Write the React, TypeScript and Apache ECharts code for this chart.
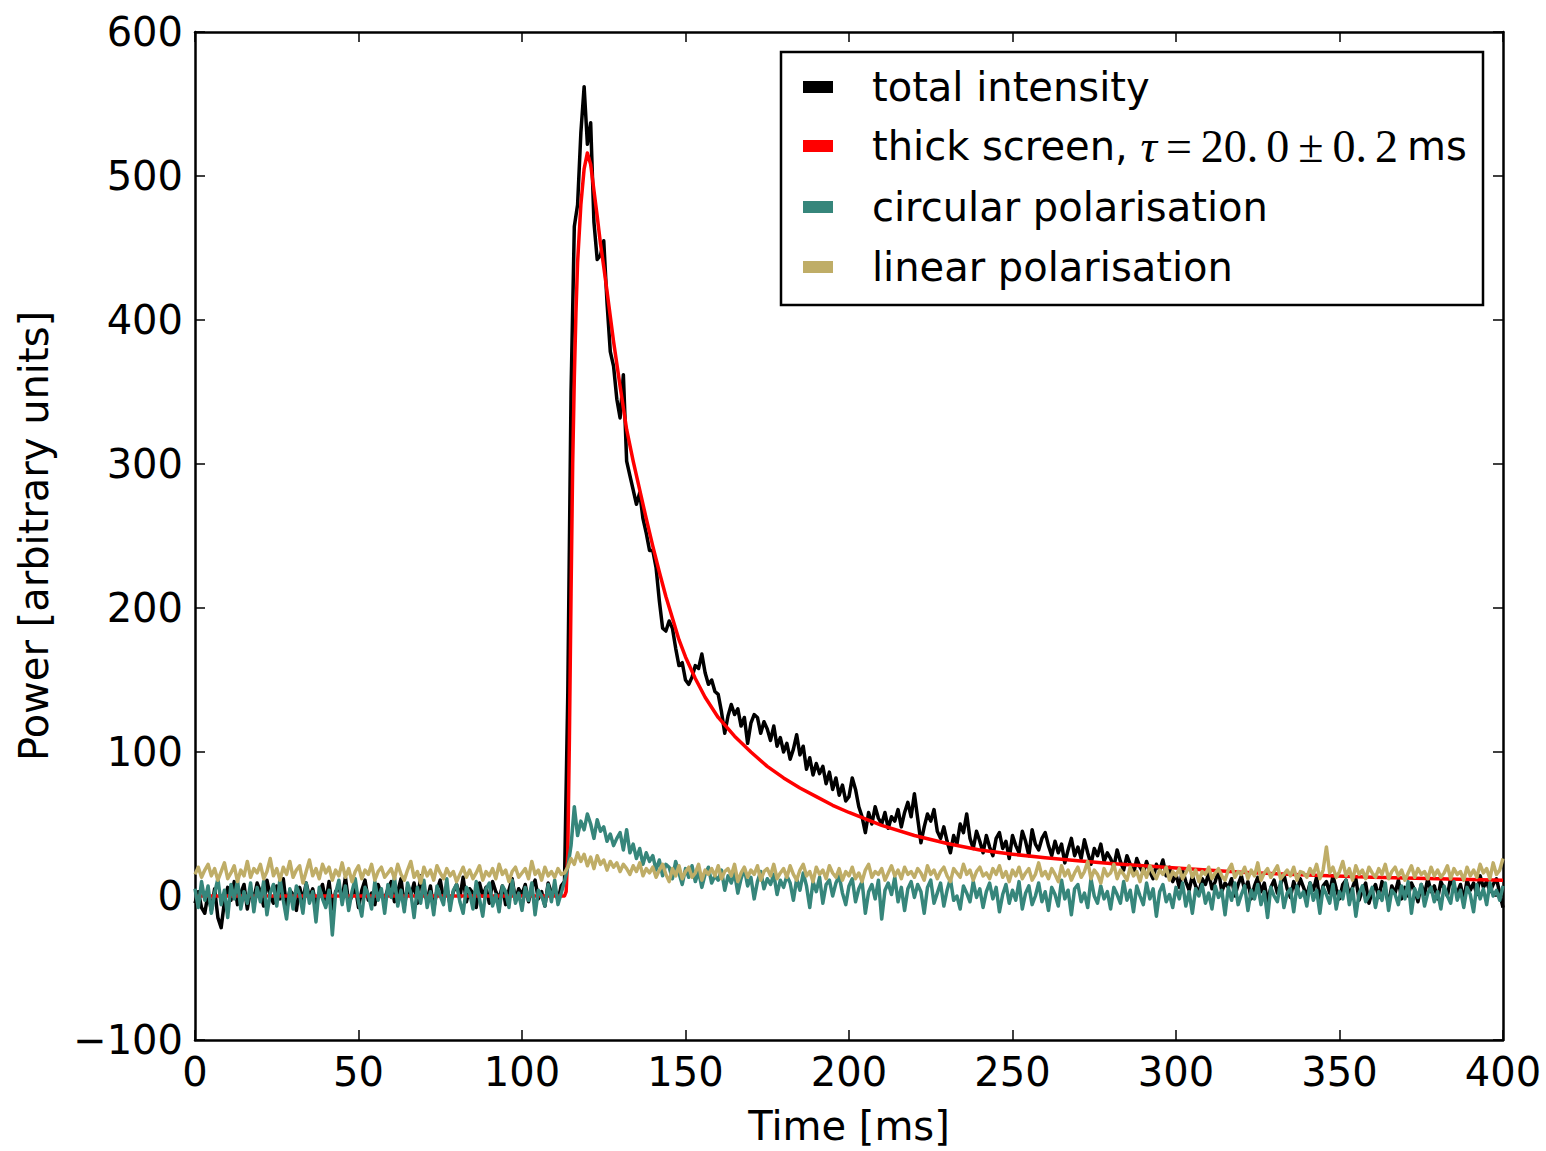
import { useEffect, useRef } from "react";
import * as echarts from "echarts";

// Sample time grid: one sample per ms, 0..400 ms
const totalIntensity: number[] = [
  -5, 3, -8, -12, 2, -10, 5, -15, -22, -4, 6, -3, 10, -6, 2, 8, -9, 4, -2, 9,
  3, -7, 11, 0, -5, 7, -2, 12, -8, 4, 1, -10, 6, -3, 9, -1, 5, -6, 2, 8,
  -4, 10, -9, 3, 6, -2, 13, -5, 0, 7, -8, 4, 11, -3, 2, -6, 8, 1, -2, 5,
  10, -4, 3, 12, -7, 6, 0, 9, -5, 14, 2, -3, 7, -9, 4, 11, -2, 6, -6, 3,
  8, -1, 13, -4, 5, 2, -8, 9, 0, 6, -5, 10, 3, -2, 7, -6, 4, 12, -3, 5,
  1, 8, -4, 6, 11, -2, 3, -7, 9, 2, 5, -3, 7,
  10, 140, 350, 465, 480, 530, 562,
  522, 537, 468, 442, 445, 455, 412, 378, 368, 345,
  332, 362, 302, 292, 282, 272, 280, 262, 252, 240,
  240, 228, 205, 186, 184, 191, 186, 172, 160, 162,
  150, 147, 152, 160, 158, 168, 155, 147, 150, 142,
  140, 128, 113, 125, 133, 126, 130, 118, 124, 106, 120, 126, 124, 113, 121, 116, 108, 118, 104, 110,
  100, 106, 95, 102, 112, 98, 104, 88, 96, 84, 92, 85, 90, 78, 86, 74, 82, 70, 77, 66,
  69, 82, 74, 62, 55, 44, 58, 50, 62, 54, 50, 58, 47, 55, 52, 60, 48, 58, 65, 55,
  71, 54, 37, 48, 57, 52, 60, 45, 40, 48, 38, 30, 42, 36, 50, 44, 57, 40, 33, 45,
  38, 30, 42, 34, 28, 40, 44, 33, 38, 26, 42, 35, 30, 45, 38, 28, 46, 36, 32, 40,
  44, 35, 28, 38, 30, 36, 23, 32, 40, 28, 34, 26, 39, 30, 22, 33, 28, 36, 24, 30,
  26, 20, 32, 24, 18, 28, 22, 15, 26, 20, 16, 24, 17, 12, 22, 18, 25, 14, 20, 10,
  15, 6, 18, 10, 4, 14, 7, 2, 12, 8, 16, 5, 10, 18, 3, 9, 6, 12, 0, 8,
  14, 4, 10, -2, 7, 13, 3, 9, -4, 6, 11, 2, 8, 15, 5, -1, 10, 3, 12, 6,
  0, 9, 4, 13, -3, 7, 10, 2, 14, 5, -2, 8, 11, 1, 6, 12, -3, 4, 9, -5,
  3, 8, -1, 10, 5, -6, 7, 2, 11, -2, 6, 0, 9, 4, -4, 8, 1, 12, 3, 7,
  -2, 10, 5, 0, 13, 6, 2, 8, -3, 11, 4, 9, 1, 14, 6, 10, 3, 8, 12, 2, -8,
];

const circularPol: number[] = [
  5, -8, 10, -3, 7, -12, 2, 12, -6, 4, -15, 8, -2, 11, -9, 3, -5, 9, -11, 6,
  -4, 10, -13, 2, 8, -7, 12, -3, -16, 5, -9, 7, 1, -12, 9, -5, 3, -18, 6, -2,
  -8, 4, -27, 2, 11, -6, 7, -10, 3, 12, -4, -14, 6, 1, -9, 10, -3, 5, -12, 8,
  -1, 13, -7, 4, -11, 9, 2, -15, 6, -5, 11, -8, 3, -13, 7, 0, -6, 12, -10, 4,
  8, -4, -12, 6, 2, -9, 10, -2, -14, 5, 9, -7, 1, -11, 7, 3, -8, 11, -5, 2,
  -10, 6, -3, 9, -13, 4, 0, -7, 8, -4, 11, -6, 2,
  10, 20, 35, 62, 42, 52, 46,
  57, 50, 40, 53, 45, 48, 38, 43, 35, 40,
  44, 32, 46, 30, 36, 26, 33, 22, 30, 24,
  28, 18, 25, 14, 22, 20, 12, 24, 16, 8, 19, 13, 21, 10, 17, 6, 15, 20, 9, 14,
  11, 18, 4, 14, 9, 16, 2, 12, 19, 7, 13, -2, 10, 17, 5, 12, 8, 15, 1, 11,
  6, 14, 9, -3, 12, 4, 16, 7, -8, 10, 3, 13, -5, 8, 11, 0, 9, 14, 2, -6,
  7, 12, -4, 5, 10, -12, 3, 8, -2, 11, -16, 4, 9, 1, 13, -4, 6, -10, 5, 10,
  -1, 8, 3, -12, 6, 11, -5, 2, 9, -7, 4, 12, -3, 0, -9, 7, 2, -4, 10, -1,
  5, -8, 3, 9, -2, 6, -11, 1, 8, -5, 4, -3, 10, -9, 2, 7, -6, 0, 9, -4,
  3, -10, 6, 1, -7, 11, -2, 4, -13, 5, 8, -4, 2, -8, 12, 0, -5, 7, -2, 3,
  -9, 6, 1, -5, 10, -3, 4, -11, 7, 0, -6, 9, -2, 5, -14, 3, 8, -4, 1, -8,
  6, -2, 9, -7, 3, -12, 5, 0, 8, -5, 2, -9, 7, -1, 4, -13, 6, -3, 9, -6,
  1, 7, -10, 4, -2, 8, -6, 3, -15, 6, 0, -4, 10, -8, 2, 5, -11, 7, -1, 3,
  -7, 9, -3, 4, -12, 6, 1, -5, 8, -9, 3, -2, 11, -6, 5, -14, 2, 7, -4, 0,
  6, -8, 3, -3, 9, -10, 4, 1, -6, 7, -2, 10, -12, 5, -1, 8, -7, 2, 6, -4,
  3, -9, 7, 0, -5, 10, -3, 4, -8, 6, 1, -11, 8, -2, 5, -6, 9, 0, 4, -3, 7,
];

const linearPol: number[] = [
  15, 20, 13, 18, 22, 14, 19, 11, 17, 23, 12, 16, 21, 10, 18, 14, 24, 13, 19, 16,
  22, 12, 17, 26, 14, 19, 11, 20, 15, 24, 13, 18, 21, 9, 17, 25, 14, 19, 12, 22,
  16, 20, 11, 18, 14, 23, 13, 19, 10, 17, 21, 12, 18, 15, 22, 11, 17, 20, 13, 16,
  19, 12, 22, 15, 11, 18, 24, 13, 17, 9, 20, 14, 18, 11, 21, 16, 12, 19, 14, 17,
  10, 15, 20, 13, 18, 12, 16, 21, 11, 17, 14, 19, 12, 22, 15, 18, 10, 17, 20, 13,
  16, 19, 12, 24, 15, 18, 11, 20, 14, 17, 13, 19, 15,
  16, 20, 26, 22, 30, 24, 29,
  21, 27, 19, 28, 22, 25, 18, 24, 20, 23,
  17, 22, 19, 15, 21, 17, 23, 14, 19, 16,
  20, 13, 18, 22, 15, 10, 19, 14, 21, 12, 17, 20, 13, 16, 22, 11, 18, 15, 19, 14,
  21, 12, 17, 19, 14, 22, 10, 16, 20, 13, 18, 15, 21, 11, 17, 19, 14, 22, 12, 16,
  19, 13, 21, 15, 11, 18, 22, 14, 17, 10, 20, 15, 18, 12, 21, 16, 13, 19, 11, 17,
  14, 20, 12, 16, 10, 18, 22, 13, 17, 15, 19, 11, 16, 21, 14, 18, 12, 20, 15, 17,
  13, 19, 16, 11, 21, 15, 18, 12, 17, 20, 14, 10, 19, 16, 13, 22, 15, 18, 11, 17,
  20, 14, 16, 12, 19, 15, 21, 13, 17, 10, 18, 14, 20, 12, 16, 19, 11, 15, 23, 14,
  17, 12, 19, 15, 10, 21, 14, 18, 11, 16, 20, 13, 17, 24, 12, 18, 15, 9, 19, 14,
  16, 22, 12, 18, 15, 11, 20, 14, 17, 10, 19, 13, 21, 16, 12, 18, 15, 20, 11, 17,
  14, 19, 12, 16, 21, 13, 18, 10, 17, 15, 20, 12, 16, 19, 14, 11, 18, 22, 13, 17,
  15, 20, 12, 18, 14, 23, 11, 16, 19, 13, 17, 21, 12, 15, 18, 14, 20, 11, 17, 16,
  13, 19, 15, 22, 12, 18, 34, 16, 20, 13, 17, 24, 14, 19, 11, 21, 15, 18, 12, 20,
  16, 13, 19, 15, 22, 12, 17, 20, 14, 18, 11, 16, 21, 13, 19, 15, 17, 12, 20, 14,
  18, 13, 16, 21, 12, 19, 15, 17, 11, 20, 14, 18, 13, 22, 16, 19, 12, 23, 15, 18, 26,
];

// Fitted thick-screen profile
const fitTimes: number[] = [
  0, 113, 113.5, 114, 114.5, 115, 115.5, 116, 116.5, 117,
  118, 119, 120, 121, 122, 123, 124, 125, 126, 128,
  130, 132, 134, 136, 138, 140, 142, 144, 146, 148,
  150, 153, 156, 160, 165, 170, 175, 180, 185, 190,
  195, 200, 210, 220, 230, 240, 250, 260, 270, 280,
  290, 300, 320, 340, 360, 380, 400,
];
const fitValues: number[] = [
  0, 0, 3, 30, 110, 210, 300, 360, 405, 440,
  480, 505, 516, 508, 490, 472, 453, 437, 420, 385,
  354, 324, 302, 282, 262, 243, 225, 208, 193, 178,
  166, 151, 138, 124, 111, 100, 90, 82, 75, 69,
  63, 58, 49, 42, 36.5, 32, 29, 26.5, 24.5, 22.5,
  21, 19.5, 16.5, 14.5, 13, 12, 11,
];

const seriesNames = [
  "total intensity",
  "thick screen, τ = 20.0 ± 0.2 ms",
  "circular polarisation",
  "linear polarisation",
];
const seriesColors = ["#000000", "#ff0000", "#36867b", "#bfad67"];

const FONT = "DejaVu Sans";
const MATH = "Liberation Serif";

export default function App() {
  const ref = useRef<HTMLDivElement>(null);
  useEffect(() => {
    document.body.style.margin = "0";
    if (!ref.current) return;
    const chart = echarts.init(ref.current, undefined, { renderer: "svg" });
    const toPairs = (arr: number[]) => arr.map((v, i) => [i, v]);
    const fitPairs = fitTimes.map((t, i) => [t, fitValues[i]]);
    const axisLine = { show: true, onZero: false, lineStyle: { color: "#000", width: 2.5 } };
    const axisTick = { show: true, inside: true, length: 10, lineStyle: { color: "#000", width: 1.5 } };
    const labelStyle = { fontFamily: FONT, fontSize: 40, color: "#000" };
    const lineSeries = (name: string, data: any[], color: string) => ({
      name,
      type: "line",
      data,
      showSymbol: false,
      symbol: "none",
      color,
      lineStyle: { color, width: 3.5, join: "round" },
      emphasis: { disabled: true },
      clip: true,
    });
    const mathTok = { fontFamily: MATH, fontSize: 46, color: "#000", lineHeight: 40 };
    const legendText = {
      fontFamily: FONT, fontSize: 40, color: "#000", lineHeight: 40,
      padding: [0, 0, 0, 34],
      rich: {
        a: { fontFamily: FONT, fontSize: 40, color: "#000", lineHeight: 40 },
        t: { ...mathTok, fontStyle: "italic" },
        m: { ...mathTok },
        p: { ...mathTok, padding: [0, 0, 0, 8] },
        s: { ...mathTok, fontSize: 20, padding: [0, 2, 0, 2] },
      },
    };
    const legendBase = {
      orient: "vertical",
      left: 803,
      padding: 0,
      itemWidth: 30,
      itemHeight: 12,
      itemGap: 20,
      icon: "rect",
      selectedMode: false,
      textStyle: legendText,
      formatter: (name: string) =>
        name === seriesNames[1]
          ? "{a|thick screen, }{t|τ}{s| }{m|=}{s| }{m|20.}{p|0}{s| }{m|±}{s| }{m|0.}{p|2}{s| }{a|ms}"
          : name,
    };
    chart.setOption({
      animation: false,
      backgroundColor: "#fff",
      grid: { left: 195, right: 43, top: 32, bottom: 105, containLabel: false },
      xAxis: [
        {
          type: "value", min: 0, max: 400, interval: 50, position: "bottom",
          axisLine, axisTick, splitLine: { show: false },
          axisLabel: { ...labelStyle, margin: 12, showMinLabel: true, showMaxLabel: true },
          name: "Time [ms]", nameLocation: "middle", nameGap: 66,
          nameTextStyle: { ...labelStyle },
        },
        {
          type: "value", min: 0, max: 400, interval: 50, position: "top",
          axisLine, axisTick, splitLine: { show: false }, axisLabel: { show: false },
        },
      ],
      yAxis: [
        {
          type: "value", min: -100, max: 600, interval: 100, position: "left",
          axisLine, axisTick, splitLine: { show: false },
          axisLabel: {
            ...labelStyle, margin: 12,
            formatter: (v: number) => String(v).replace("-", "\u2212"),
          },
          name: "Power [arbitrary units]", nameLocation: "middle", nameGap: 141, nameRotate: 90,
          nameTextStyle: { ...labelStyle },
        },
        {
          type: "value", min: -100, max: 600, interval: 100, position: "right",
          axisLine, axisTick, splitLine: { show: false }, axisLabel: { show: false },
        },
      ],
      legend: [
        { ...legendBase, top: 67, data: [seriesNames[0]] },
        { ...legendBase, top: 123, data: [seriesNames[1]] },
        { ...legendBase, top: 187, data: [seriesNames[2], seriesNames[3]] },
      ],
      graphic: [
        {
          type: "rect",
          shape: { x: 781, y: 52, width: 702, height: 253 },
          style: { fill: "transparent", stroke: "#000", lineWidth: 2.5 },
          silent: true,
        },
      ],
      series: [
        lineSeries(seriesNames[0], toPairs(totalIntensity), seriesColors[0]),
        lineSeries(seriesNames[1], fitPairs, seriesColors[1]),
        lineSeries(seriesNames[2], toPairs(circularPol), seriesColors[2]),
        lineSeries(seriesNames[3], toPairs(linearPol), seriesColors[3]),
      ],
    });
    return () => chart.dispose();
  }, []);
  return <div ref={ref} style={{ width: 1546, height: 1151 }} />;
}
